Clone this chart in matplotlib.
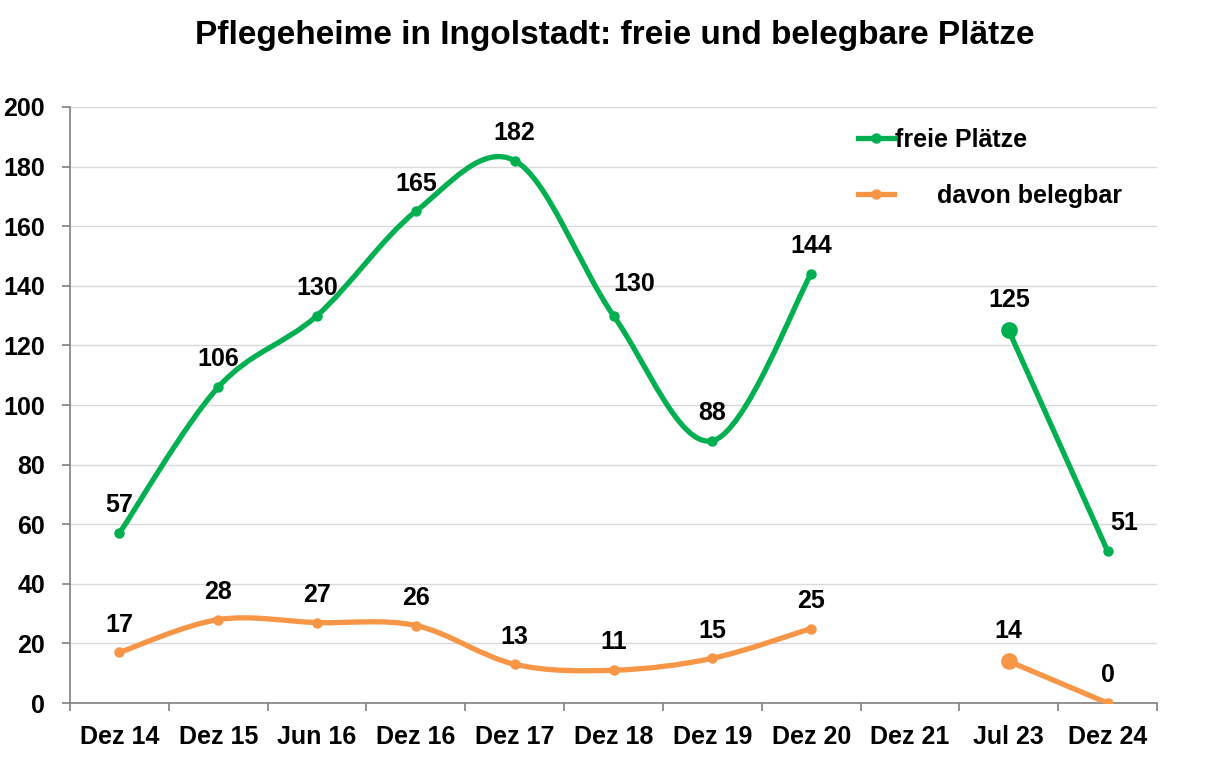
import numpy as np
import matplotlib.pyplot as plt
from matplotlib.path import Path
from matplotlib.patches import PathPatch
from matplotlib.lines import Line2D

plt.rcParams['font.family'] = ['Liberation Sans', 'DejaVu Sans']
plt.rcParams['font.weight'] = 'bold'

categories = ["Dez 14", "Dez 15", "Jun 16", "Dez 16", "Dez 17", "Dez 18",
              "Dez 19", "Dez 20", "Dez 21", "Jul 23", "Dez 24"]
freie = [57, 106, 130, 165, 182, 130, 88, 144, None, 125, 51]
belegbar = [17, 28, 27, 26, 13, 11, 15, 25, None, 14, 0]

# label offsets in points (dx, dy) relative to each point
freie_offsets = [(0, 20), (0, 20), (0, 20), (0, 20), (0, 20), (15, 23),
                 (0, 20), (0, 20), None, (0, 22), (12, 20)]
beleg_offsets = [(0, 20), (0, 20), (0, 20), (0, 20), (0, 20), (0, 20),
                 (0, 20), (0, 20), None, (0, 22), (0, 20)]

GREEN = "#00B050"
ORANGE = "#F79646"


def segments(vals):
    segs, cur = [], []
    for i, v in enumerate(vals):
        if v is None:
            if cur:
                segs.append(cur)
            cur = []
        else:
            cur.append((i, v))
    if cur:
        segs.append(cur)
    return segs


def smooth_path(pts):
    # excel-like smoothed line: cubic bezier (catmull-rom control points)
    p = np.array(pts, dtype=float)
    verts = [p[0]]
    codes = [Path.MOVETO]
    n = len(p)
    for i in range(n - 1):
        p0 = p[i - 1] if i > 0 else p[i]
        p3 = p[i + 2] if i + 2 < n else p[i + 1]
        c1 = p[i] + (p[i + 1] - p0) / 6.0
        c2 = p[i + 1] - (p3 - p[i]) / 6.0
        verts += [c1, c2, p[i + 1]]
        codes += [Path.CURVE4] * 3
    return Path(verts, codes)


fig = plt.figure(figsize=(12.29, 7.62), dpi=100)
ax = fig.add_axes([0.057, 0.0774, 0.8844, 0.7822])

for vals, color, offs in [(freie, GREEN, freie_offsets), (belegbar, ORANGE, beleg_offsets)]:
    for seg in segments(vals):
        ax.add_patch(PathPatch(smooth_path(seg), fill=False, edgecolor=color,
                               lw=3.8, capstyle='round', joinstyle='round', zorder=3))
    x = [i for i, v in enumerate(vals) if v is not None]
    y = [v for v in vals if v is not None]
    sizes = [11 if categories[i] == "Jul 23" else 6.5 for i in x]
    for xi, yi, s in zip(x, y, sizes):
        ax.plot([xi], [yi], 'o', color=color, ms=s, mec=color, zorder=4)
        dx, dy = offs[xi]
        ax.annotate(str(yi), (xi, yi), xytext=(dx, dy), textcoords='offset points',
                    ha='center', va='center', fontsize=18, fontweight='bold')

ax.set_xlim(-0.5, len(categories) - 0.5)
ax.set_ylim(0, 200)
ax.set_yticks(range(0, 201, 20))
ax.set_xticks(range(len(categories)))
ax.set_xticklabels(categories)
ax.set_xticks(np.arange(-0.5, len(categories), 1.0), minor=True)
ax.tick_params(axis='x', which='major', length=0, pad=16, labelsize=18)
ax.tick_params(axis='x', which='minor', length=6, width=1.2, color='#808080')
ax.tick_params(axis='y', length=6, width=1.2, color='#808080', pad=12, labelsize=18)

ax.grid(axis='y', color='#D9D9D9', lw=1)
ax.set_axisbelow(True)
for s in ['top', 'right']:
    ax.spines[s].set_visible(False)
for s in ['left', 'bottom']:
    ax.spines[s].set_color('#808080')
    ax.spines[s].set_linewidth(1.2)

handles = [Line2D([], [], color=GREEN, lw=3.8, marker='o', ms=6.5),
           Line2D([], [], color=ORANGE, lw=3.8, marker='o', ms=6.5)]
ax.legend(handles, ["freie Plätze", "      davon belegbar"], loc='upper left',
          bbox_to_anchor=(0.704, 1.003), frameon=False, fontsize=18,
          handlelength=1.45, handletextpad=0.05, labelspacing=1.3)

fig.text(0.5, 0.954, "Pflegeheime in Ingolstadt: freie und belegbare Plätze",
         ha='center', va='center', fontsize=24, fontweight='bold')

fig.savefig("out.png", dpi=100)
